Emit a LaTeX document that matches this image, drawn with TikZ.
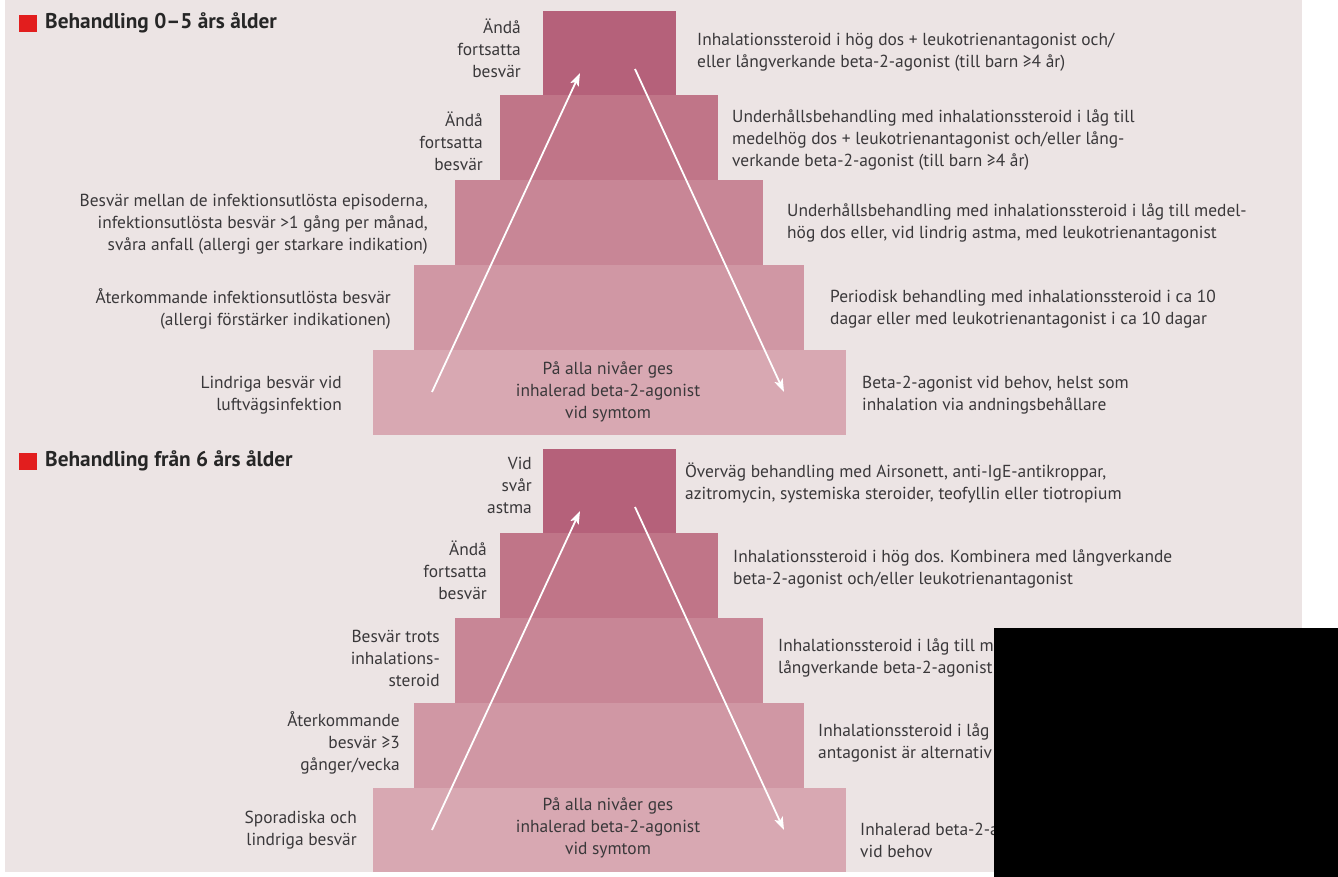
\documentclass[tikz,border=0pt]{standalone}
\usepackage{fontspec}
\setmainfont{PT Sans}
\usetikzlibrary{arrows.meta}
\definecolor{bgc}{RGB}{236,228,228}
\definecolor{lvA}{RGB}{216,168,178}
\definecolor{lvB}{RGB}{208,151,164}
\definecolor{lvC}{RGB}{200,134,150}
\definecolor{lvD}{RGB}{192,117,136}
\definecolor{lvE}{RGB}{181,97,122}
\definecolor{txt}{RGB}{58,56,58}
\definecolor{redsq}{RGB}{226,30,30}
\begin{document}
\begin{tikzpicture}[x=1pt,y=-1pt,
  lt/.style={anchor=east, align=right, text=txt, inner sep=0pt, font=\fontsize{17.4}{22}\selectfont},
  rt/.style={anchor=west, align=left, text=txt, inner sep=0pt, font=\fontsize{17.4}{22}\selectfont},
  ct/.style={align=center, text=txt, inner sep=0pt, font=\fontsize{17.4}{22}\selectfont},
  ttl/.style={anchor=west, text=black!85, inner sep=0pt, font=\fontsize{21.3}{24}\selectfont\bfseries},
  arr/.style={draw=white, line width=1.8pt, -{Stealth[length=13pt,width=9pt,inset=3pt]}}]
\useasboundingbox (0,0) rectangle (1338,877);
\fill[white] (0,0) rectangle (1338,877);
\fill[bgc] (5,0) rectangle (1302,872);
% ---- top pyramid
\fill[lvE] (543,11) rectangle (676,95);
\fill[lvD] (500,95) rectangle (718,180);
\fill[lvC] (455,180) rectangle (763,265);
\fill[lvB] (414,265) rectangle (804,350);
\fill[lvA] (373,350) rectangle (846,435);
% ---- bottom pyramid
\fill[lvE] (543,449) rectangle (676,533);
\fill[lvD] (500,533) rectangle (718,618);
\fill[lvC] (455,618) rectangle (763,703);
\fill[lvB] (414,703) rectangle (804,788);
\fill[lvA] (373,788) rectangle (846,872);
% titles
\fill[redsq] (19,15) rectangle (37,32);
\node[ttl] (t1) at (45,23) {Behandling 0–5 års ålder};
\fill[redsq] (19,453) rectangle (37,470);
\node[ttl] (t2) at (45,461) {Behandling från 6 års ålder};
% arrows top
\coordinate (ua1) at (432,392); \coordinate (ub1) at (580,73);
\coordinate (da1) at (635,69);  \coordinate (db1) at (784,392);
\draw[arr] (ua1) -- (ub1);
\draw[arr] (da1) -- (db1);
% arrows bottom
\coordinate (ua2) at (432,830); \coordinate (ub2) at (580,511);
\coordinate (da2) at (635,507); \coordinate (db2) at (784,830);
\draw[arr] (ua2) -- (ub2);
\draw[arr] (da2) -- (db2);
% ---- texts top
\node[lt] (a5l) at (521,48) {Ändå\\fortsatta\\besvär};
\node[rt] (a5r) at (697,52) {Inhalationssteroid i hög dos + leukotrienantagonist och/\\eller långverkande beta-2-agonist (till barn ≥4 år)};
\node[lt] (a4l) at (483,141) {Ändå\\fortsatta\\besvär};
\node[rt] (a4r) at (732,140) {Underhållsbehandling med inhalationssteroid i låg till\\medelhög dos + leukotrienantagonist och/eller lång-\\verkande beta-2-agonist (till barn ≥4 år)};
\node[lt] (a3l) at (428,224) {Besvär mellan de infektionsutlösta episoderna,\\infektionsutlösta besvär >1 gång per månad,\\svåra anfall (allergi ger starkare indikation)};
\node[rt] (a3r) at (787,223) {Underhållsbehandling med inhalationssteroid i låg till medel-\\hög dos eller, vid lindrig astma, med leukotrienantagonist};
\node[lt] (a2l) at (391,309) {Återkommande infektionsutlösta besvär\\(allergi förstärker indikationen)};
\node[rt] (a2r) at (830,309) {Periodisk behandling med inhalationssteroid i ca 10\\dagar eller med leukotrienantagonist i ca 10 dagar};
\node[lt] (a1l) at (342,395) {Lindriga besvär vid\\luftvägsinfektion};
\node[ct] (a1c) at (608,392) {På alla nivåer ges\\inhalerad beta-2-agonist\\vid symtom};
\node[rt] (a1r) at (862,395) {Beta-2-agonist vid behov, helst som\\inhalation via andningsbehållare};
% ---- texts bottom
\node[lt] (b5l) at (532,485) {Vid\\svår\\astma};
\node[rt] (b5r) at (685,483) {Överväg behandling med Airsonett, anti-IgE-antikroppar,\\azitromycin, systemiska steroider, teofyllin eller tiotropium};
\node[lt] (b4l) at (487,570) {Ändå\\fortsatta\\besvär};
\node[rt] (b4r) at (733,569) {Inhalationssteroid i hög dos. Kombinera med långverkande\\beta-2-agonist och/eller leukotrienantagonist};
\node[lt] (b3l) at (440,658) {Besvär trots\\inhalations-\\steroid};
\node[rt] (b3r) at (778,658) {Inhalationssteroid i låg till m\\långverkande beta-2-agonist};
\node[lt] (b2l) at (400,743) {Återkommande\\besvär ≥3\\gånger/vecka};
\node[rt] (b2r) at (818,743) {Inhalationssteroid i låg\\antagonist är alternativ};
\node[lt] (b1l) at (357,830) {Sporadiska och\\lindriga besvär};
\node[ct] (b1c) at (608,828) {På alla nivåer ges\\inhalerad beta-2-agonist\\vid symtom};
\node[rt] (b1r) at (860,840) {Inhalerad beta-2-a\\vid behov};
% black cover
\fill[black] (994,628) rectangle (1338,877);
\end{tikzpicture}
\end{document}
